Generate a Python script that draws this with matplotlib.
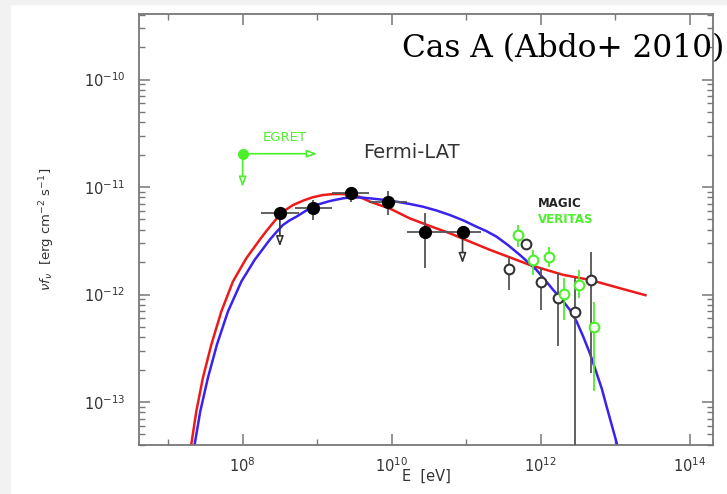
import numpy as np
import matplotlib
matplotlib.use("Agg")
import matplotlib.pyplot as plt
from matplotlib.patches import Rectangle
from matplotlib.ticker import FixedLocator, LogLocator, NullFormatter

# ---- data (log10 values) ----
# model curves
red_logE = [7.277, 7.311, 7.379, 7.467, 7.580, 7.714, 7.870, 8.050, 8.228, 8.318, 8.385,
            8.46, 8.54, 8.67, 8.81, 8.94, 9.08, 9.20, 9.30, 9.46, 9.58, 9.71, 9.84, 9.97,
            10.24, 10.51, 10.78, 11.05, 11.32, 11.58, 11.85, 12.08, 12.30, 12.66, 13.06,
            13.42]
red_logF = [-13.55, -13.396, -13.086, -12.776, -12.467, -12.158, -11.879, -11.662, -11.492,
            -11.41, -11.353, -11.29, -11.23, -11.17, -11.127, -11.095, -11.074, -11.066,
            -11.065, -11.068, -11.095, -11.136, -11.168, -11.198, -11.291, -11.362, -11.430,
            -11.508, -11.585, -11.653, -11.724, -11.772, -11.817, -11.864, -11.941, -12.009]
blue_logE = [7.322, 7.356, 7.432, 7.534, 7.655, 7.803, 7.983, 8.161, 8.362, 8.452, 8.541,
             8.63, 8.721, 8.85, 8.989, 9.17, 9.346, 9.436, 9.57, 9.705, 9.88, 10.063, 10.24,
             10.42, 10.60, 10.779, 10.96, 11.137, 11.27, 11.405, 11.56, 11.718, 11.83, 11.942,
             12.05, 12.165, 12.28, 12.389, 12.48, 12.568, 12.66, 12.748, 12.82, 12.882, 12.95,
             13.024, 13.05]
blue_logF = [-13.55, -13.396, -13.086, -12.776, -12.467, -12.158, -11.879, -11.678, -11.492,
             -11.42, -11.353, -11.31, -11.276, -11.22, -11.167, -11.13, -11.105, -11.098,
             -11.097, -11.105, -11.118, -11.136, -11.157, -11.183, -11.218, -11.26, -11.31,
             -11.369, -11.41, -11.461, -11.54, -11.631, -11.70, -11.771, -11.86, -11.956,
             -12.045, -12.142, -12.25, -12.39, -12.55, -12.73, -12.88, -13.04, -13.21,
             -13.395, -13.50]

# Fermi-LAT points
lat_logE = [8.50, 8.95, 9.45, 9.95, 10.45, 10.95]
lat_logF = [-11.245, -11.198, -11.059, -11.136, -11.42, -11.415]
lat_lo = [-11.245, -11.31, -11.139, -11.26, -11.755, -11.415]
lat_hi = [-11.19, -11.12, -11.009, -11.034, -11.245, -11.415]
lat_dlogE = 0.25
lat_ul = [True, False, False, False, False, True]
lat_ul_end = [-11.554, None, None, None, None, -11.71]

# MAGIC points
magic_logE = [11.575, 11.799, 12.009, 12.233, 12.456, 12.671]
magic_logF = [-11.764, -11.529, -11.888, -12.034, -12.158, -11.864]
magic_lo = [-11.956, -11.585, -12.142, -12.483, -13.8, -12.73]
magic_hi = [-11.647, -11.49, -11.755, -11.80, -11.845, -11.60]

# VERITAS points
ver_logE = [11.696, 11.897, 12.107, 12.313, 12.51, 12.71]
ver_logF = [-11.446, -11.678, -11.647, -11.996, -11.91, -12.303]
ver_lo = [-11.554, -11.817, -11.74, -12.235, -12.033, -12.90]
ver_hi = [-11.353, -11.585, -11.554, -11.845, -11.77, -12.065]

# EGRET upper limit
egret_logE, egret_logF = 8.0, -10.69
egret_E_end, egret_F_end = 9.0, -11.0

GRAY = "#555555"
GREEN = "#4cf02a"
RED = "#ee1a1a"
BLUE = "#3a22ee"

p = lambda v: np.power(10.0, np.asarray(v, dtype=float))

fig = plt.figure(figsize=(7.27, 4.94), dpi=100)
fig.patches.append(Rectangle((0, 0), 10 / 727, 1, transform=fig.transFigure,
                             color="#f2f2f2", zorder=0))
fig.patches.append(Rectangle((0, 1 - 4 / 494), 1, 4 / 494, transform=fig.transFigure,
                             color="#f2f2f2", zorder=0))
ax = fig.add_axes([139 / 727, 1 - 445 / 494, (713 - 139) / 727, (445 - 14) / 494])
ax.set_xscale("log")
ax.set_yscale("log")
ax.set_xlim(10 ** 6.61, 10 ** 14.31)
ax.set_ylim(10 ** -13.40, 10 ** -9.39)

# model curves
ax.plot(p(red_logE), p(red_logF), color=RED, lw=1.8, zorder=2, solid_capstyle="butt")
ax.plot(p(blue_logE), p(blue_logF), color=BLUE, lw=1.8, zorder=2, solid_capstyle="butt")

# Fermi-LAT
E = p(lat_logE)
F = p(lat_logF)
ax.errorbar(E, F, xerr=[E - p(np.array(lat_logE) - lat_dlogE), p(np.array(lat_logE) + lat_dlogE) - E],
            yerr=[F - p(lat_lo), p(lat_hi) - F], fmt="o", color="black", ms=8.5,
            ecolor=GRAY, elinewidth=1.3, capsize=0, zorder=4)
for e, f, ul, end in zip(lat_logE, lat_logF, lat_ul, lat_ul_end):
    if ul:
        ax.annotate("", xy=(10 ** e, 10 ** end), xytext=(10 ** e, 10 ** f),
                    arrowprops=dict(arrowstyle="-|>,head_length=0.6,head_width=0.22",
                                    ec="#333333", fc="white", lw=1.2,
                                    shrinkA=0, shrinkB=0), zorder=3)

# MAGIC
E = p(magic_logE)
F = p(magic_logF)
ax.errorbar(E, F, yerr=[F - p(magic_lo), p(magic_hi) - F], fmt="o", mfc="white",
            mec="#333333", mew=1.5, ms=7, ecolor=GRAY, elinewidth=1.3, capsize=0, zorder=4)

# VERITAS
E = p(ver_logE)
F = p(ver_logF)
ax.errorbar(E, F, yerr=[F - p(ver_lo), p(ver_hi) - F], fmt="o", mfc="white",
            mec=GREEN, mew=1.5, ms=7, ecolor=GREEN, elinewidth=1.3, capsize=0, zorder=4)

# EGRET
ax.plot(10 ** egret_logE, 10 ** egret_logF, "o", color=GREEN, ms=7, zorder=4)
for xy in [(10 ** egret_E_end, 10 ** egret_logF), (10 ** egret_logE, 10 ** egret_F_end)]:
    ax.annotate("", xy=xy, xytext=(10 ** egret_logE, 10 ** egret_logF),
                arrowprops=dict(arrowstyle="-|>,head_length=0.6,head_width=0.22",
                                ec=GREEN, fc="white", lw=1.2, shrinkA=0, shrinkB=0),
                zorder=3)

# labels inside the plot
ax.text(10 ** 8.57, 10 ** -10.535, "EGRET", color=GREEN, fontsize=9.5, ha="center", va="center")
ax.text(10 ** 9.62, 10 ** -10.68, "Fermi-LAT", color="#333333", fontsize=14,
        ha="left", va="center")
ax.text(10 ** 11.96, 10 ** -11.15, "MAGIC", color="#222222", fontsize=8.5,
        fontweight="bold", ha="left", va="center")
ax.text(10 ** 11.96, 10 ** -11.305, "VERITAS", color=GREEN, fontsize=8.5,
        fontweight="bold", ha="left", va="center")

# axes styling
for s in ax.spines.values():
    s.set_color("#777777")
    s.set_linewidth(1.3)
ax.xaxis.set_major_locator(FixedLocator([1e8, 1e10, 1e12, 1e14]))
ax.xaxis.set_minor_locator(FixedLocator([1e7, 1e9, 1e11, 1e13]))
ax.xaxis.set_minor_formatter(NullFormatter())
ax.yaxis.set_major_locator(FixedLocator([1e-13, 1e-12, 1e-11, 1e-10]))
ax.yaxis.set_minor_locator(LogLocator(base=10, subs=np.arange(2, 10), numticks=10))
ax.yaxis.set_minor_formatter(NullFormatter())
ax.tick_params(which="both", direction="in", top=True, right=True, color="#777777",
               labelcolor="#333333", labelsize=10.5)
ax.tick_params(which="major", length=8, width=1.1)
ax.tick_params(which="minor", length=4.5, width=1.0)
ax.tick_params(axis="y", which="major", pad=10)
ax.tick_params(axis="x", which="major", pad=8)

ax.set_xlabel("E  [eV]", fontsize=10.5, color="#333333")
ax.xaxis.set_label_coords(0.5, -0.055)
ax.set_ylabel(r"$\nu f_\nu$  [erg cm$^{-2}$ s$^{-1}$]", fontsize=9.5, color="#333333")
ax.yaxis.set_label_coords(-0.143, 0.5)

fig.text(724 / 727, 1 - 57 / 494, "Cas A (Abdo+ 2010)", family="DejaVu Serif",
         fontsize=22.5, ha="right", va="baseline", color="black")

fig.savefig("out.png", dpi=100)
